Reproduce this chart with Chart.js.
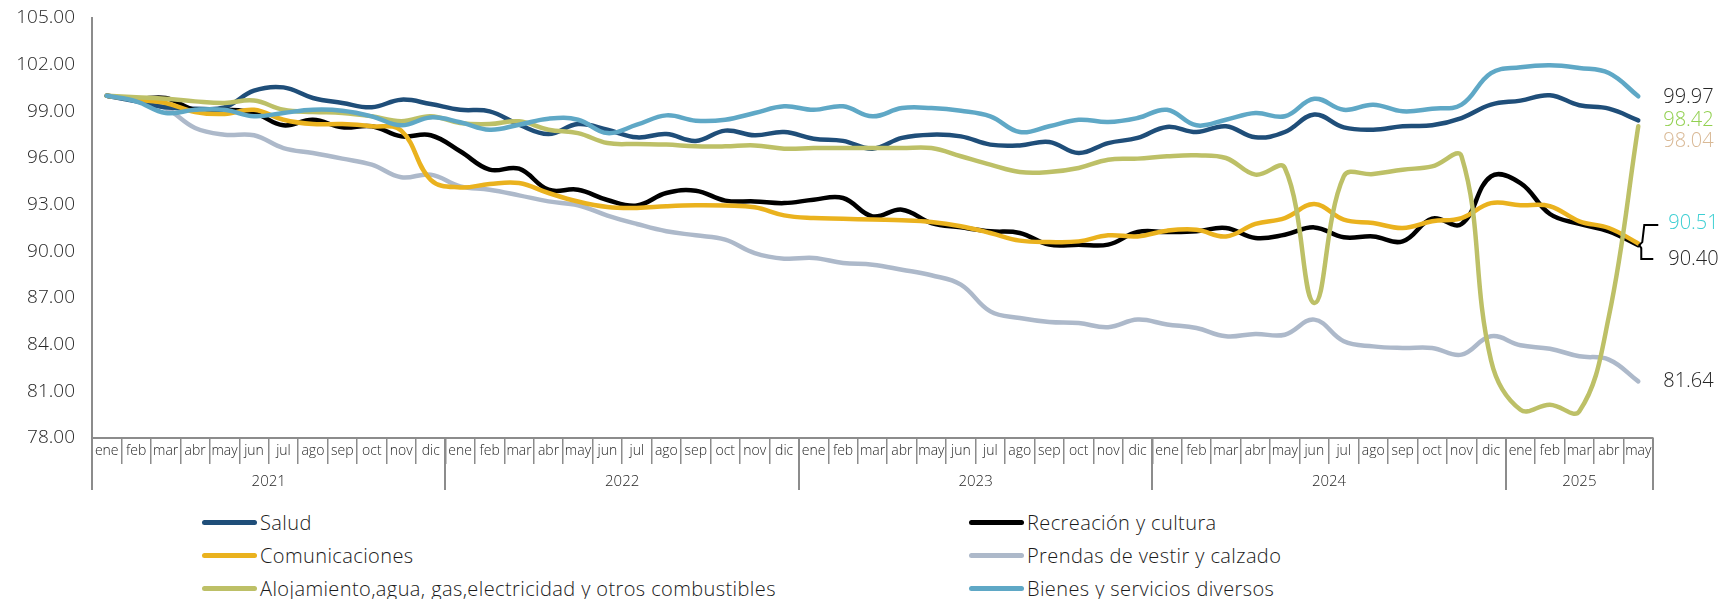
<!DOCTYPE html>
<html>
<head>
<meta charset="utf-8">
<script src="https://cdn.jsdelivr.net/npm/chart.js@4.4.1/dist/chart.umd.min.js"></script>
<style>
  html, body { margin: 0; padding: 0; background: #fff; }
  #wrap { position: relative; width: 1734px; height: 599px; overflow: hidden; }
  #chart { position: absolute; left: 0; top: 0; }
  #legend {
    position: absolute; left: 202px; top: 506px;
    display: grid; grid-template-columns: 767px auto; grid-auto-rows: 33px;
    font-family: 'Open Sans', Lato, sans-serif; font-weight: 300; font-size: 20px;
    letter-spacing: 0.4px; color: #1a1a1a;
  }
  #legend .item { display: flex; align-items: center; white-space: nowrap; }
  #legend .swatch { width: 55px; height: 5px; border-radius: 3px; margin-right: 3px; }
</style>
</head>
<body>
<div id="wrap">
  <canvas id="chart" width="1734" height="494"></canvas>
  <div id="legend"></div>
</div>
<script>
// categorias: meses ene 2021 - may 2025
const months = ['ene','feb','mar','abr','may','jun','jul','ago','sep','oct','nov','dic'];
const years = ['2021', '2022', '2023', '2024', '2025'];
const monthsPerYear = [12, 12, 12, 12, 5];
const labels = [];
years.forEach((y, k) => { for (let m = 0; m < monthsPerYear[k]; m++) labels.push(months[m]); });

const yTicks = { min: 78, max: 105, step: 3 };

const salud = [100.00, 99.64, 99.26, 99.17, 99.26, 100.33, 100.54, 99.86, 99.54, 99.26, 99.75, 99.47,
  99.10, 99.00, 98.14, 97.54, 98.18, 97.82, 97.33, 97.54, 97.10, 97.76, 97.46, 97.67,
  97.24, 97.10, 96.60, 97.29, 97.50, 97.39, 96.86, 96.81, 97.03, 96.32, 96.96, 97.29,
  98.00, 97.67, 98.04, 97.33, 97.67, 98.79, 97.97, 97.82, 98.04, 98.10, 98.57, 99.43,
  99.69, 100.03, 99.39, 99.17, 98.42];
const recreacion = [100.00, 99.80, 99.86, 99.10, 99.10, 98.90, 98.10, 98.46, 97.97, 98.04, 97.39, 97.46,
  96.43, 95.25, 95.31, 93.96, 93.96, 93.30, 92.95, 93.75, 93.90, 93.26, 93.21, 93.10,
  93.32, 93.43, 92.25, 92.68, 91.82, 91.54, 91.29, 91.18, 90.43, 90.43, 90.43, 91.24,
  91.24, 91.29, 91.50, 90.86, 91.07, 91.54, 90.90, 90.96, 90.64, 92.10, 91.76, 94.82,
  94.39, 92.40, 91.76, 91.29, 90.40];
const comunicaciones = [100.00, 99.75, 99.54, 98.96, 98.83, 99.10, 98.46, 98.18, 98.18, 98.04, 97.76, 94.60,
  94.11, 94.33, 94.39, 93.75, 93.20, 92.85, 92.79, 92.90, 92.96, 92.94, 92.83, 92.31,
  92.14, 92.10, 92.04, 92.00, 91.89, 91.61, 91.18, 90.69, 90.60, 90.64, 91.03, 90.96,
  91.33, 91.39, 90.96, 91.76, 92.14, 93.04, 92.04, 91.82, 91.50, 91.93, 92.14, 93.10,
  92.96, 92.90, 91.93, 91.50, 90.51];
const prendas = [100.00, 99.70, 99.20, 97.93, 97.50, 97.46, 96.64, 96.32, 95.96, 95.57, 94.76, 94.93,
  94.18, 93.96, 93.60, 93.21, 92.96, 92.30, 91.76, 91.29, 91.03, 90.75, 89.89, 89.53,
  89.57, 89.25, 89.14, 88.82, 88.46, 87.86, 86.14, 85.71, 85.46, 85.39, 85.12, 85.61,
  85.30, 85.07, 84.54, 84.69, 84.64, 85.61, 84.22, 83.89, 83.79, 83.79, 83.36, 84.54,
  83.96, 83.74, 83.25, 83.04, 81.64];
const alojamiento = [100.00, 99.90, 99.81, 99.64, 99.54, 99.69, 99.10, 98.96, 98.90, 98.68, 98.36, 98.68,
  98.25, 98.18, 98.36, 97.82, 97.60, 96.96, 96.90, 96.86, 96.75, 96.75, 96.81, 96.60,
  96.64, 96.64, 96.64, 96.64, 96.64, 96.11, 95.57, 95.10, 95.10, 95.36, 95.89, 95.96,
  96.11, 96.17, 96.00, 94.93, 95.36, 86.68, 94.82, 94.97, 95.25, 95.46, 96.11, 83.00,
  79.82, 80.14, 79.72, 85.80, 98.04];
const bienes = [100.00, 99.64, 98.89, 99.10, 99.10, 98.68, 98.90, 99.10, 99.04, 98.68, 98.10, 98.61,
  98.30, 97.82, 98.14, 98.53, 98.46, 97.60, 98.14, 98.74, 98.40, 98.46, 98.89, 99.32,
  99.10, 99.32, 98.68, 99.21, 99.21, 99.04, 98.68, 97.67, 98.04, 98.46, 98.31, 98.57,
  99.10, 98.10, 98.46, 98.89, 98.68, 99.81, 99.10, 99.43, 99.00, 99.17, 99.43, 101.46,
  101.83, 101.96, 101.79, 101.46, 99.97];

const FONT = "'Open Sans', Lato, sans-serif";
const TEXT = '#262626';
const AXIS = '#8c8c8c';

function serie(label, data, color, order) {
  return {
    label: label, data: data, borderColor: color, backgroundColor: color,
    borderWidth: 4.5, pointRadius: 0, tension: 0.4, fill: false,
    borderCapStyle: 'round', order: order
  };
}

// separadores y etiquetas de año bajo los meses
const yearAxis = {
  id: 'yearAxis',
  afterDraw(chart) {
    const x = chart.scales.x, c = chart.ctx;
    const w = (x.right - x.left) / labels.length;
    const top = x.top, bottom = x.top + 52;
    c.save();
    c.strokeStyle = AXIS; c.lineWidth = 2;
    c.fillStyle = TEXT; c.font = '300 15px ' + FONT;
    c.textAlign = 'center'; c.textBaseline = 'middle';
    let start = 0;
    for (let k = 0; k <= years.length; k++) {
      const px = Math.round(x.left + start * w);
      c.beginPath(); c.moveTo(px, top); c.lineTo(px, bottom); c.stroke();
      if (k < years.length) {
        const mid = x.left + (start + monthsPerYear[k] / 2) * w;
        c.fillText(years[k], mid, top + 44);
        start += monthsPerYear[k];
      }
    }
    c.restore();
  }
};

// valores finales a la derecha
const endLabels = {
  id: 'endLabels',
  afterDraw(chart) {
    const c = chart.ctx, y = chart.scales.y, x = chart.scales.x;
    const last = labels.length - 1;
    const ex = x.getPixelForValue(last);
    const items = [
      { v: bienes[last], color: '#262626', dx: 25, dy: 1 },
      { v: salud[last], color: '#92d050', dx: 25, dy: 0 },
      { v: alojamiento[last], color: '#d9b996', dx: 25, dy: 15 },
      { v: comunicaciones[last], color: '#3dcfd3', dx: 30, dy: -20 },
      { v: recreacion[last], color: '#262626', dx: 30, dy: 14 },
      { v: prendas[last], color: '#262626', dx: 25, dy: 0 }
    ];
    c.save();
    c.font = '300 20px ' + FONT; c.textBaseline = 'middle'; c.textAlign = 'left';
    items.forEach(it => {
      c.fillStyle = it.color;
      c.fillText(it.v.toFixed(2), ex + it.dx, y.getPixelForValue(it.v) + it.dy);
    });
    // llave entre 90.51 y 90.40
    const ey = y.getPixelForValue(recreacion[last]);
    c.strokeStyle = '#000'; c.lineWidth = 2;
    c.beginPath();
    c.moveTo(ex + 20, ey - 20); c.lineTo(ex + 6, ey - 20); c.lineTo(ex + 4, ey - 3); c.lineTo(ex + 1, ey);
    c.lineTo(ex + 3, ey + 3); c.lineTo(ex + 3, ey + 14); c.lineTo(ex + 15, ey + 14);
    c.stroke();
    c.restore();
  }
};

const ctx = document.getElementById('chart');
const chart = new Chart(ctx, {
  type: 'line',
  data: {
    labels: labels,
    datasets: [
      serie('Salud', salud, '#1f4e79', 5),
      serie('Recreación y cultura', recreacion, '#000000', 4),
      serie('Comunicaciones', comunicaciones, '#eab21e', 3),
      serie('Prendas de vestir y calzado', prendas, '#adb9ca', 6),
      serie('Alojamiento,agua, gas,electricidad y otros combustibles', alojamiento, '#bdc067', 2),
      serie('Bienes y servicios diversos', bienes, '#5fa8c6', 1)
    ]
  },
  options: {
    responsive: false,
    animation: false,
    layout: { padding: { top: 18, right: 81, left: 0, bottom: 4 } },
    plugins: { legend: { display: false }, tooltip: { enabled: false } },
    scales: {
      x: {
        type: 'category',
        offset: true,
        afterFit(scale) { scale.height = 52; },
        grid: { offset: true, drawOnChartArea: false, drawTicks: true, tickLength: 26, color: AXIS, lineWidth: 1.5 },
        border: { color: AXIS, width: 2 },
        ticks: { autoSkip: false, maxRotation: 0, minRotation: 0, padding: -21, color: TEXT,
          font: { family: FONT, size: 14, weight: '300' } }
      },
      y: {
        min: yTicks.min, max: yTicks.max,
        afterFit(scale) { scale.width = 92; scale.paddingTop = 0; scale.paddingBottom = 0; },
        grid: { drawOnChartArea: false, drawTicks: false },
        border: { color: AXIS, width: 2 },
        ticks: { stepSize: yTicks.step, padding: 17, color: TEXT,
          font: { family: FONT, size: 19, weight: '300' },
          callback: v => v.toFixed(2) }
      }
    }
  },
  plugins: [yearAxis, endLabels]
});

// leyenda en dos columnas
const legend = document.getElementById('legend');
chart.data.datasets.forEach(ds => {
  legend.innerHTML += `<div class="item"><span class="swatch" style="background:${ds.borderColor}"></span>${ds.label}</div>`;
});
</script>
</body>
</html>
